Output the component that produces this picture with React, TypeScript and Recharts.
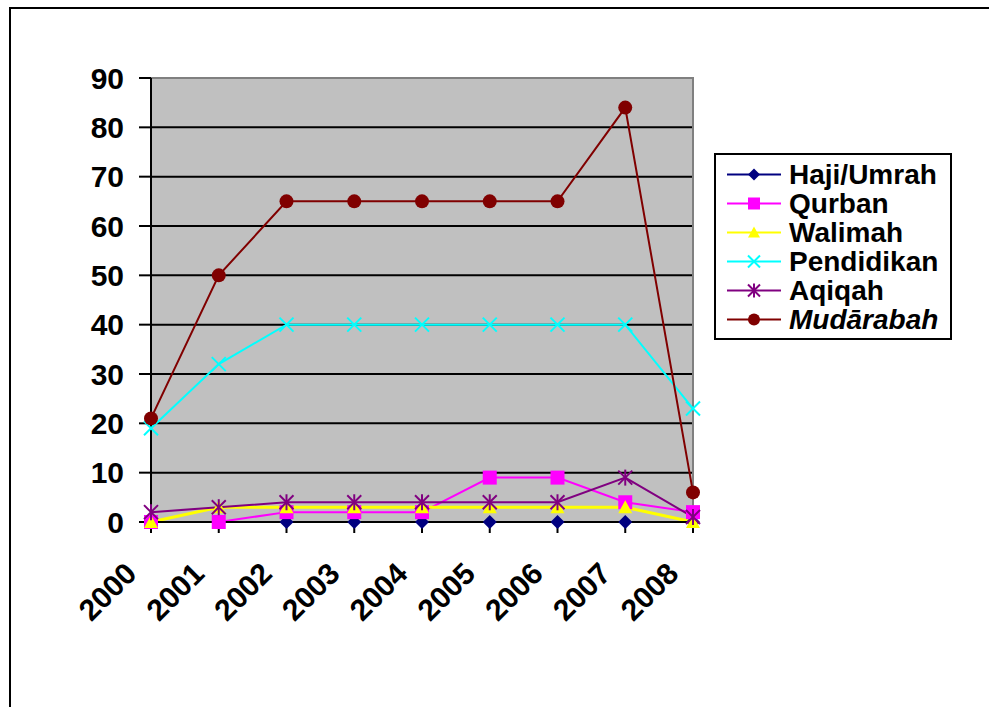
import React from "react";
import { CartesianGrid, Legend, Line, LineChart, ReferenceArea, XAxis, YAxis } from "recharts";

const years = ["2000", "2001", "2002", "2003", "2004", "2005", "2006", "2007", "2008"];
const hajiUmrah = [0, 0, 0, 0, 0, 0, 0, 0, 0];
const qurban = [0, 0, 2, 2, 2, 9, 9, 4, 2];
const walimah = [0, 3, 3, 3, 3, 3, 3, 3, 0];
const pendidikan = [19, 32, 40, 40, 40, 40, 40, 40, 23];
const aqiqah = [2, 3, 4, 4, 4, 4, 4, 9, 1];
const mudarabah = [21, 50, 65, 65, 65, 65, 65, 84, 6];
const yTicks = [0, 10, 20, 30, 40, 50, 60, 70, 80, 90];

const FONT = "'Liberation Sans', Arial, sans-serif";

type Shape = "diamond" | "square" | "triangle" | "x" | "star" | "circle";

const series: { key: string; name: string; color: string; shape: Shape; italic?: boolean }[] = [
  { key: "haji", name: "Haji/Umrah", color: "#000080", shape: "diamond" },
  { key: "qurban", name: "Qurban", color: "#ff00ff", shape: "square" },
  { key: "walimah", name: "Walimah", color: "#ffff00", shape: "triangle" },
  { key: "pendidikan", name: "Pendidikan", color: "#00ffff", shape: "x" },
  { key: "aqiqah", name: "Aqiqah", color: "#800080", shape: "star" },
  { key: "mudarabah", name: "Mudārabah", color: "#800000", shape: "circle", italic: true },
];

const data = years.map((year, i) => ({
  year,
  haji: hajiUmrah[i],
  qurban: qurban[i],
  walimah: walimah[i],
  pendidikan: pendidikan[i],
  aqiqah: aqiqah[i],
  mudarabah: mudarabah[i],
}));

const Marker = ({ shape, color, cx, cy, s }: { shape: Shape; color: string; cx: number; cy: number; s: number }) => {
  switch (shape) {
    case "diamond":
      return <polygon points={`${cx},${cy - s} ${cx + s},${cy} ${cx},${cy + s} ${cx - s},${cy}`} fill={color} />;
    case "square":
      return <rect x={cx - s} y={cy - s} width={s * 2} height={s * 2} fill={color} />;
    case "triangle":
      return <polygon points={`${cx},${cy - s} ${cx + s},${cy + s * 0.85} ${cx - s},${cy + s * 0.85}`} fill={color} />;
    case "x":
      return (
        <g stroke={color} strokeWidth={2}>
          <line x1={cx - s} y1={cy - s} x2={cx + s} y2={cy + s} />
          <line x1={cx - s} y1={cy + s} x2={cx + s} y2={cy - s} />
        </g>
      );
    case "star":
      return (
        <g stroke={color} strokeWidth={2}>
          <line x1={cx - s} y1={cy - s} x2={cx + s} y2={cy + s} />
          <line x1={cx - s} y1={cy + s} x2={cx + s} y2={cy - s} />
          <line x1={cx} y1={cy - s - 1} x2={cx} y2={cy + s + 1} />
        </g>
      );
    default:
      return <circle cx={cx} cy={cy} r={s} fill={color} />;
  }
};

const YTick = (props: any) => {
  const { y, payload } = props;
  return (
    <text x={124} y={y} textAnchor="end" dominantBaseline="central" fontFamily={FONT} fontWeight="bold" fontSize={30} fill="#000">
      {payload.value}
    </text>
  );
};

const XTick = (props: any) => {
  const { x, payload } = props;
  return (
    <text
      transform={`translate(${x - 20},${568}) rotate(-45)`}
      textAnchor="end"
      dominantBaseline="central"
      fontFamily={FONT}
      fontWeight="bold"
      fontSize={30}
      fill="#000"
    >
      {payload.value}
    </text>
  );
};

const LegendBox = () => (
  <div
    style={{
      width: 234,
      height: 178,
      border: "2px solid #000",
      background: "#fff",
      boxSizing: "content-box",
      paddingTop: 5,
      fontFamily: FONT,
      fontWeight: "bold",
      fontSize: 28,
      color: "#000",
    }}
  >
    {series.map((s) => (
      <div key={s.key} style={{ height: 29, display: "flex", alignItems: "center" }}>
        <svg width={73} height={29} style={{ flex: "none" }}>
          <line x1={11} y1={14.5} x2={65} y2={14.5} stroke={s.color} strokeWidth={2} />
          <Marker shape={s.shape} color={s.color} cx={38} cy={14.5} s={6} />
        </svg>
        <span style={{ fontStyle: s.italic ? "italic" : "normal", lineHeight: "29px", whiteSpace: "nowrap" }}>{s.name}</span>
      </div>
    ))}
  </div>
);

export default function App() {
  return (
    <div style={{ position: "absolute", left: 0, top: 0, width: 989, height: 707, overflow: "hidden", background: "#fff" }}>
      <div
        style={{
          position: "absolute",
          left: 9,
          top: 7,
          width: 1200,
          height: 1200,
          border: "2px solid #000",
        }}
      />
      <div style={{ position: "absolute", left: 0, top: 0 }}>
        <LineChart width={989} height={707} data={data} margin={{ top: 78, right: 296, left: 0, bottom: 0 }}>
          <CartesianGrid vertical={false} fill="#c0c0c0" fillOpacity={1} stroke="#000" strokeWidth={2} />
          <ReferenceArea x1="2000" x2="2008" y1={0} y2={90} fill="none" stroke="#808080" strokeWidth={2} ifOverflow="visible" />
          <XAxis
            dataKey="year"
            height={185}
            interval={0}
            axisLine={{ stroke: "#000", strokeWidth: 2 }}
            tickLine={{ stroke: "#000", strokeWidth: 2 }}
            tickSize={11}
            tick={<XTick />}
          />
          <YAxis
            width={151}
            domain={[0, 90]}
            ticks={yTicks}
            interval={0}
            axisLine={{ stroke: "#000", strokeWidth: 2 }}
            tickLine={{ stroke: "#000", strokeWidth: 2 }}
            tickSize={12}
            tick={<YTick />}
          />
          <Legend
            layout="horizontal"
            verticalAlign="middle"
            align="center"
            wrapperStyle={{ left: 714, top: 153, width: "auto", right: "auto", bottom: "auto" }}
            content={() => <LegendBox />}
          />
          {series.map((s) => (
            <Line
              key={s.key}
              dataKey={s.key}
              name={s.name}
              type="linear"
              stroke={s.color}
              strokeWidth={s.key === "walimah" ? 3 : 2}
              isAnimationActive={false}
              dot={(p: any) => <Marker key={`${s.key}-${p.index}`} shape={s.shape} color={s.color} cx={p.cx} cy={p.cy} s={7} />}
              activeDot={false}
            />
          ))}
        </LineChart>
      </div>
    </div>
  );
}
